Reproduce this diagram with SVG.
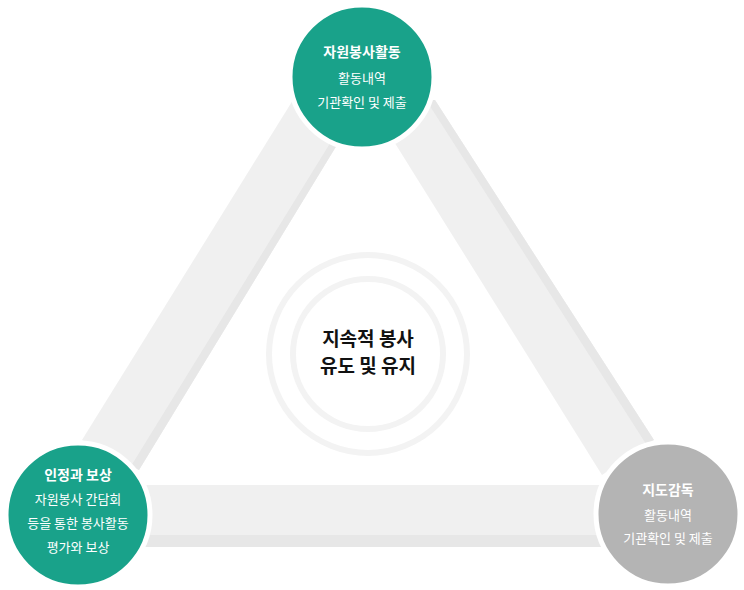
<svg xmlns="http://www.w3.org/2000/svg" width="744" height="590" viewBox="0 0 744 590">
<style>
.bar{fill:#f0f0f0}.sh{fill:#e7e7e7}
.node circle{stroke:#fff;stroke-width:5}
.g{fill:#19a28a}.gr{fill:#b4b4b4}
text{font-family:"Noto Sans CJK KR","Noto Sans",sans-serif;text-anchor:middle}
.t{fill:#fff;font-size:14px;font-weight:bold}.s{fill:#fff;font-size:13px}
.c{fill:#111;font-size:19px;font-weight:bold}
</style>
<rect width="744" height="590" fill="#fff"/>
<g id="connectors">
<polygon class="bar" points="293,100 340,140 139,470 82,440"/>
<polygon class="sh" points="332,140 340,140 139,470 131,466"/>
<polygon class="bar" points="435,100 393,140 602,475 654,440"/>
<polygon class="sh" points="426,100 435,100 654,440 646,444"/>
<rect class="bar" x="130" y="485" width="480" height="50"/>
<rect class="sh" x="130" y="535" width="480" height="12"/>
</g>
<g id="center">
<circle cx="368" cy="354" r="99" fill="none" stroke="#f3f3f3" stroke-width="6"/>
<circle cx="368" cy="354" r="75" fill="none" stroke="#f3f3f3" stroke-width="6"/>
<text class="c" x="368" y="346">지속적 봉사</text>
<text class="c" x="368" y="373">유도 및 유지</text>
</g>
<g id="node-top" class="node">
<circle class="g" cx="362" cy="77" r="72"/>
<text class="t" x="362" y="57">자원봉사활동</text>
<text class="s" x="362" y="83">활동내역</text>
<text class="s" x="362" y="107">기관확인 및 제출</text>
</g>
<g id="node-left" class="node">
<circle class="g" cx="78" cy="515" r="72"/>
<text class="t" x="78" y="480">인정과 보상</text>
<text class="s" x="78" y="504">자원봉사 간담회</text>
<text class="s" x="78" y="528">등을 통한 봉사활동</text>
<text class="s" x="78" y="552">평가와 보상</text>
</g>
<g id="node-right" class="node">
<circle class="gr" cx="668" cy="514" r="72"/>
<text class="t" x="668" y="495">지도감독</text>
<text class="s" x="668" y="520">활동내역</text>
<text class="s" x="668" y="543">기관확인 및 제출</text>
</g>
</svg>
